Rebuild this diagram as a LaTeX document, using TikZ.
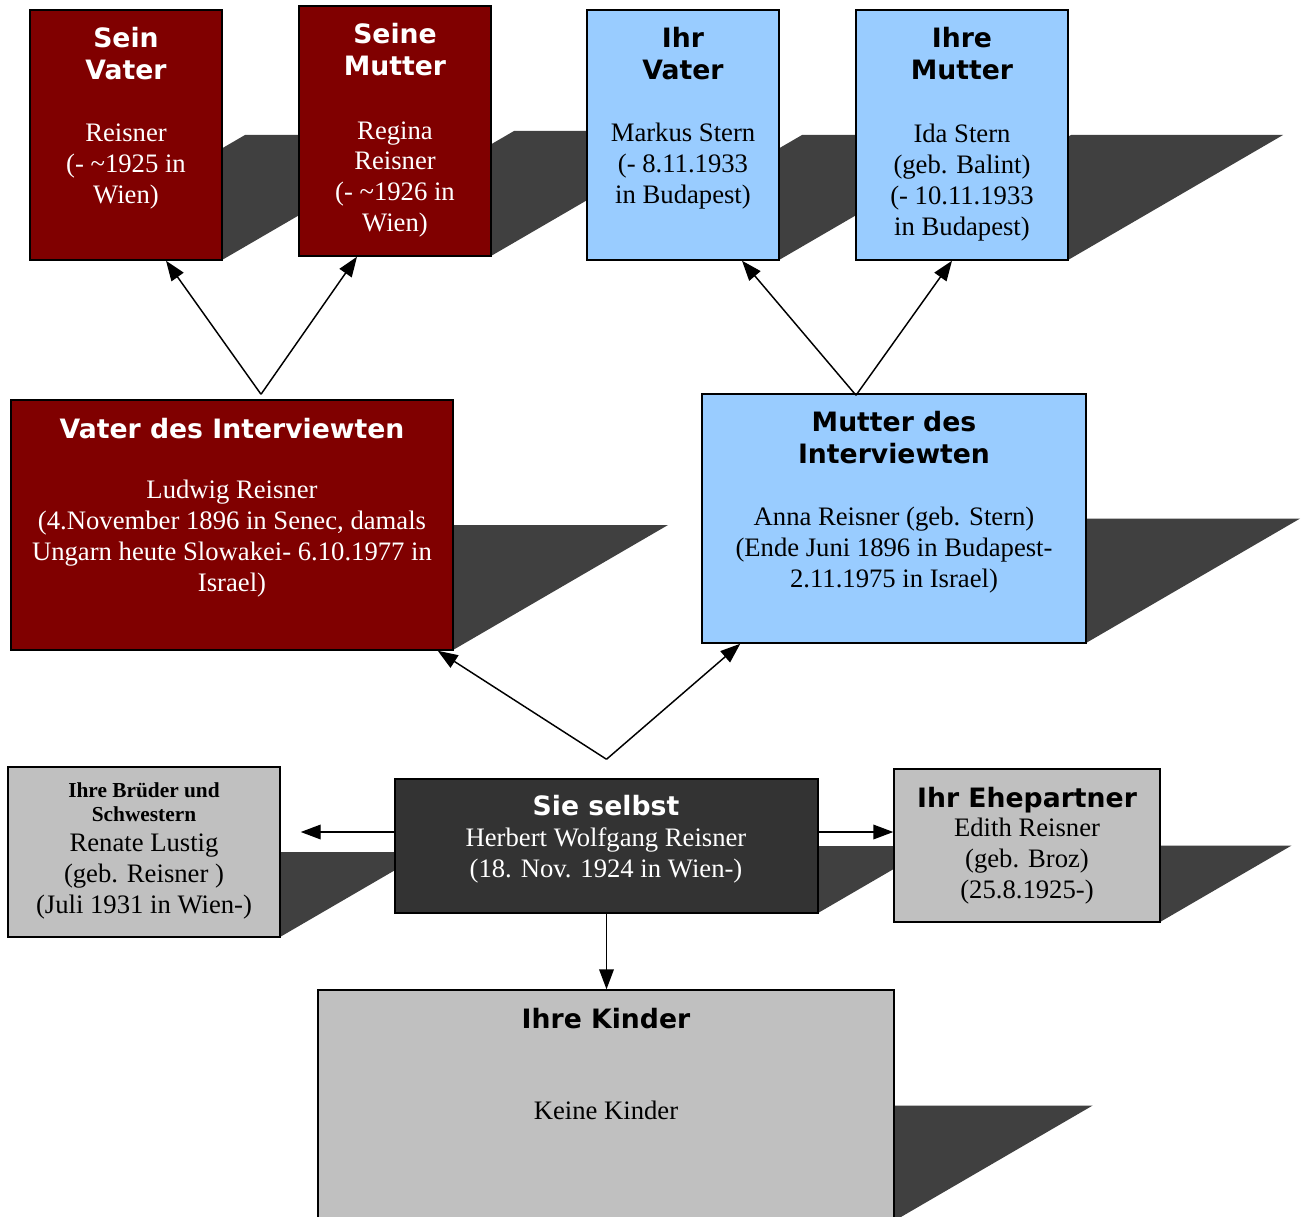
\documentclass[tikz,border=0pt]{standalone}
\usepackage{fontspec}
\setmainfont{Liberation Serif}
\newfontfamily\tfont{DejaVu Sans}
\usetikzlibrary{arrows.meta,calc,fit}
\definecolor{boxred}{HTML}{800000}
\definecolor{boxblue}{HTML}{99CCFF}
\definecolor{boxdark}{HTML}{333333}
\definecolor{boxgrey}{HTML}{C0C0C0}
\definecolor{shad}{HTML}{404040}
\newcommand\myshadow[4]{%
  \fill[shad] (#1,#4) -- (#3,#4) -- ({#3+0.86*(#4-#2)},{#4-0.5*(#4-#2)}) -- ({#1+0.86*(#4-#2)},{#4-0.5*(#4-#2)}) -- cycle;}
\begin{document}
\begin{tikzpicture}[x=0.75pt,y=-0.75pt,
  famebox/.style={draw=black, line width=1.1pt, inner sep=0pt},
  ttl/.style={font=\tfont\bfseries\fontsize{20}{24}\selectfont, align=center, anchor=base, inner sep=0pt},
  sttl/.style={font=\bfseries\fontsize{16}{18}\selectfont, align=center, anchor=base, inner sep=0pt},
  bdy/.style={font=\fontsize{20}{23.25}\selectfont, align=center, anchor=base, inner sep=0pt},
  arr/.style={line width=1.1pt, -{Triangle[length=15pt,width=11pt]}}]
\useasboundingbox (0,0) rectangle (1308,1216);
\fill[white] (0,0) rectangle (1308,1216);
% shadows
\myshadow{30}{10}{222}{260}
\myshadow{299}{6}{491}{256}
\myshadow{587}{10}{779}{260}
\myshadow{856}{10}{1068}{260}
\myshadow{11}{400}{453}{650}
\myshadow{702}{394}{1086}{643}
\myshadow{8}{767}{280}{937}
\myshadow{395}{779}{818}{913}
\myshadow{894}{769}{1160}{922}
\myshadow{318}{990}{894}{1221}
% boxes
\node[famebox, fill=boxred, fit={(30,10)(222,260)}] (sv) {};
\node[famebox, fill=boxred, fit={(299,6)(491,256)}] (sm) {};
\node[famebox, fill=boxblue, fit={(587,10)(779,260)}] (iv) {};
\node[famebox, fill=boxblue, fit={(856,10)(1068,260)}] (im) {};
\node[famebox, fill=boxred, fit={(11,400)(453,650)}] (vi) {};
\node[famebox, fill=boxblue, fit={(702,394)(1086,643)}] (mi) {};
\node[famebox, fill=boxgrey, fit={(8,767)(280,937)}] (bs) {};
\node[famebox, fill=boxdark, fit={(395,779)(818,913)}] (ss) {};
\node[famebox, fill=boxgrey, fit={(894,769)(1160,922)}] (ep) {};
\node[famebox, fill=boxgrey, fit={(318,990)(894,1221)}] (ki) {};
% texts (anchor = baseline of last line)
\node[ttl, text=white] (svt) at (126,80) {Sein\\Vater};
\node[bdy, text=white] (svb) at (126,204) {Reisner\\(- \textasciitilde1925 in\\Wien)};
\node[ttl, text=white] (smt) at (395,76) {Seine\\Mutter};
\node[bdy, text=white] (smb) at (395,232) {Regina\\Reisner\\(- \textasciitilde1926 in\\Wien)};
\node[ttl] (ivt) at (683,80) {Ihr\\Vater};
\node[bdy] (ivb) at (683,204) {Markus Stern\\(- 8.11.1933\\in Budapest)};
\node[ttl] (imt) at (962,80) {Ihre\\Mutter};
\node[bdy] (imb) at (962,235) {Ida Stern\\(geb. Balint)\\(- 10.11.1933\\in Budapest)};
\node[ttl, text=white] (vit) at (232,438) {Vater des Interviewten};
\node[bdy, text=white] (vib) at (232,591) {Ludwig Reisner\\(4.November 1896 in Senec, damals\\Ungarn heute Slowakei- 6.10.1977 in\\Israel)};
\node[ttl] (mit) at (894,463) {Mutter des\\Interviewten};
\node[bdy] (mib) at (894,587) {Anna Reisner (geb. Stern)\\(Ende Juni 1896 in Budapest-\\2.11.1975 in Israel)};
\node[sttl] (bst) at (144,821) {Ihre Brüder und\\Schwestern};
\node[bdy] (bsb) at (144,913) {Renate Lustig\\(geb. Reisner )\\(Juli 1931 in Wien-)};
\node[ttl, text=white] (sst) at (606,815) {Sie selbst};
\node[bdy, text=white] (ssb) at (606,877) {Herbert Wolfgang Reisner\\(18. Nov. 1924 in Wien-)};
\node[ttl] (ept) at (1027,807) {Ihr Ehepartner};
\node[bdy] (epb) at (1027,898) {Edith Reisner\\(geb. Broz)\\(25.8.1925-)};
\node[ttl] (kit) at (606,1028) {Ihre Kinder};
\node[bdy] (kib) at (606,1119) {Keine Kinder};
% connectors
\coordinate (apA) at ($(vi.north)+(29,-5)$);
\coordinate (apB) at ($(mi.north)+(-38,2)$);
\coordinate (apC) at ($(ss.north)+(0,-19)$);
\draw[arr] (apA) -- ($(sv.south)+(40,0)$);
\draw[arr] (apA) -- ($(sm.south)+(-38,0)$);
\draw[arr] (apB) -- ($(iv.south)+(59,0)$);
\draw[arr] (apB) -- ($(im.south)+(-10,0)$);
\draw[arr] (apC) -- ($(vi.south east)+(-16,0)$);
\draw[arr] (apC) -- ($(mi.south west)+(39,0)$);
\draw[arr] ($(ss.west)+(0,-14)$) -- ($(bs.east)+(20,-20)$);
\draw[arr] ($(ss.east)+(0,-14)$) -- ($(ep.west)+(0,-13.5)$);
\draw[arr] (ss.south) -- (ss.south |- ki.north);
\end{tikzpicture}
\end{document}
